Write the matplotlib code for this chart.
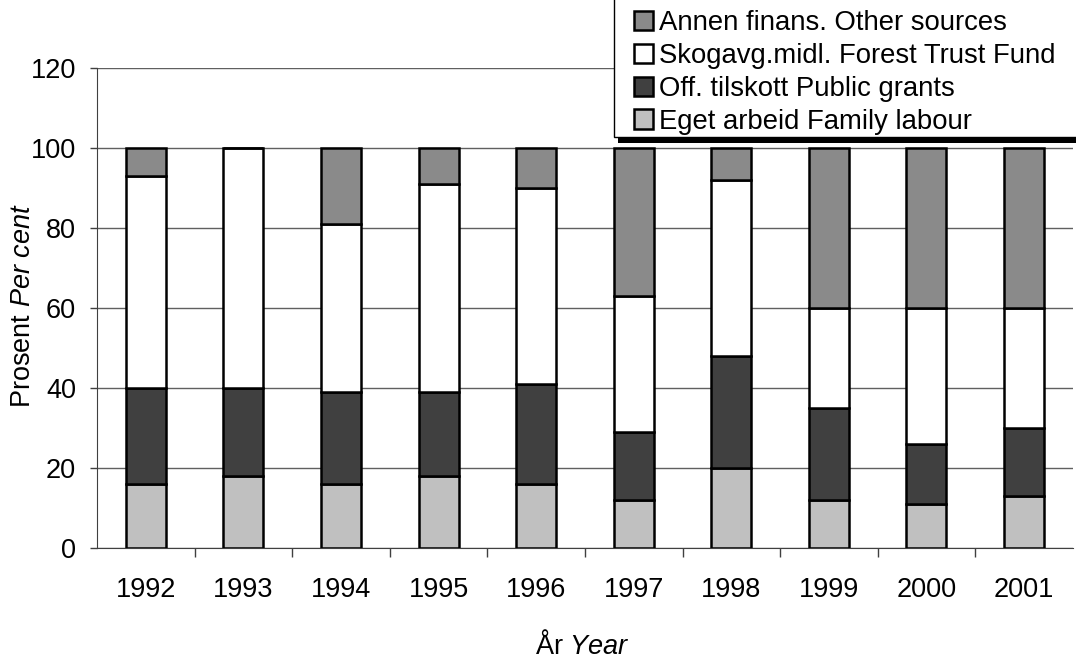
import matplotlib.pyplot as plt
import matplotlib.patches as mpatches
import numpy as np

plt.rcParams['font.family'] = ['Liberation Sans', 'DejaVu Sans']
plt.rcParams['mathtext.fontset'] = 'custom'
plt.rcParams['mathtext.rm'] = 'Liberation Sans'
plt.rcParams['mathtext.it'] = 'Liberation Sans:italic'

years = ['1992', '1993', '1994', '1995', '1996', '1997', '1998', '1999', '2000', '2001']
family = [16, 18, 16, 18, 16, 12, 20, 12, 11, 13]
public = [24, 22, 23, 21, 25, 17, 28, 23, 15, 17]
forest = [53, 60, 42, 52, 49, 34, 44, 25, 34, 30]
other = [7, 0, 19, 9, 10, 37, 8, 40, 40, 40]

labels = ['Eget arbeid Family labour', 'Off. tilskott Public grants',
          'Skogavg.midl. Forest Trust Fund', 'Annen finans. Other sources']
colors = ['#c0c0c0', '#404040', '#ffffff', '#8a8a8a']

fs = 19.5
W, H = 1076, 663

fig = plt.figure(figsize=(10.76, 6.63), dpi=100)
ax = fig.add_axes([0.0901, 0.1735, 0.907, 0.7239])

x = np.arange(len(years))
bottom = np.zeros(len(years))
bars = []
for vals, lab, col in zip([family, public, forest, other], labels, colors):
    b = ax.bar(x, vals, width=0.41, bottom=bottom, color=col, edgecolor='black',
               linewidth=1.8, label=lab, zorder=3)
    bars.append(b)
    bottom += np.array(vals)

ax.set_xlim(-0.5, len(years) - 0.5)
ax.set_ylim(0, 120)
ax.set_yticks(range(0, 121, 20))
ax.yaxis.grid(True, color='#606060', linewidth=1, zorder=0)

ax.set_xticks(x)
ax.set_xticklabels(years)
ax.set_xticks(np.arange(0.5, len(years) - 1, 1), minor=True)
ax.tick_params(axis='x', which='major', length=0, pad=21, labelsize=fs)
ax.tick_params(axis='x', which='minor', length=6.5, width=1, color='#404040')
ax.tick_params(axis='y', length=5, width=1, pad=10, labelsize=fs, color='#404040')

for s in ['top', 'right']:
    ax.spines[s].set_visible(False)
ax.spines['left'].set_color('#404040')
ax.spines['bottom'].set_color('#404040')

fig.text(23 / W, 1 - 306 / H, 'Prosent $\\it{Per\\ cent}$', fontsize=fs,
         rotation=90, ha='center', va='center')
fig.text(582 / W, 1 - 646 / H, 'År $\\it{Year}$', fontsize=fs,
         ha='center', va='center')

# legend frame + black drop shadow, drawn by hand
box_l, box_b = 614, 137
shadow = mpatches.Rectangle(((box_l + 4) / W, 1 - (box_b + 6) / H), 1, 1,
                            transform=fig.transFigure, facecolor='black',
                            edgecolor='none', zorder=4)
frame = mpatches.Rectangle((box_l / W, 1 - box_b / H), 1, 1,
                           transform=fig.transFigure, facecolor='white',
                           edgecolor='black', linewidth=1, zorder=4.5)
fig.add_artist(shadow)
fig.add_artist(frame)

leg = fig.legend(bars[::-1], labels[::-1], loc='upper left',
                 bbox_to_anchor=(634 / W, 1 - 10 / H), fontsize=19.8,
                 frameon=False, handlelength=0.7, handleheight=0.7,
                 handletextpad=0.2, labelspacing=0.25, borderpad=0,
                 borderaxespad=0)
leg.set_zorder(5)

fig.savefig('out.png', dpi=100)
